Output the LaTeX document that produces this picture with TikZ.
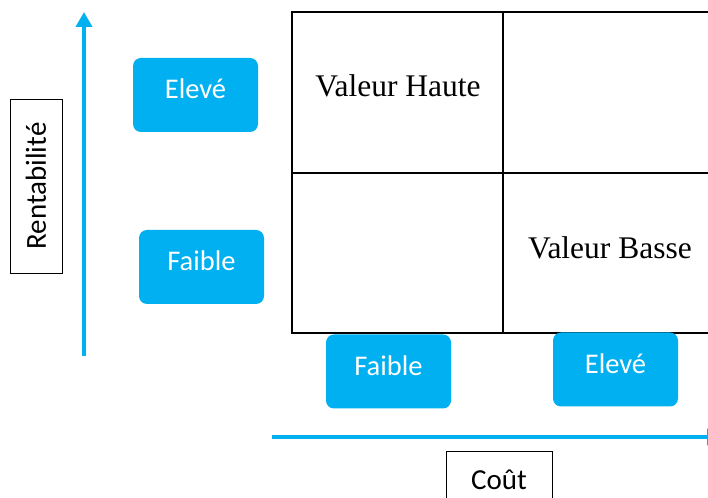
\documentclass[tikz,border=0pt]{standalone}
\usepackage{fontspec}
\setmainfont{Liberation Serif}
\newfontfamily\boxfont{Carlito}
\usepackage{tikz}
\usetikzlibrary{arrows.meta}
\definecolor{boxblue}{HTML}{00B0F0}

\begin{document}
\begin{tikzpicture}[
            x=1pt, y=1pt,
            axis/.style={draw=boxblue, line width=4pt, -{Triangle[width=16pt,length=15pt]}}, % blue axes
            level/.style={fill=boxblue, rounded corners=8pt, minimum width=125pt, minimum height=74pt,
                          text height=20pt, text depth=12pt,
                          text=white, font=\boxfont\fontsize{28.5}{34}\selectfont}, % Elevé / Faible boxes
            axislabel/.style={draw, line width=0.9pt, font=\boxfont\fontsize{29}{35}\selectfont}, % framed axis names
            quadrant/.style={font=\fontsize{31.5}{38}\selectfont} % text inside the grid
            ]

        \useasboundingbox (0,0) rectangle (708,497);

        % the 2x2 grid, right side runs off the page
        \draw[line width=1.6pt] (292,164) rectangle (715,485);
        \draw[line width=1.6pt] (503,164) -- (503,485);
        \draw[line width=1.6pt] (292,324) -- (715,324);
        \node[quadrant] (haute) at (398,411) {Valeur Haute};
        \node[quadrant] (basse) at (610,249) {Valeur Basse};

        % vertical axis
        \coordinate (ybot) at (84,141);
        \coordinate (ytop) at (84,485);
        \draw[axis] (ybot) -- (ytop);
        \node[axislabel, rotate=90, minimum width=174pt, minimum height=52pt] (rent) at (36,311) {Rentabilité};
        \node[level] (releve) at (195.5,402) {Elevé};
        \node[level] (rfaible) at (201.5,230) {Faible};

        % horizontal axis
        \coordinate (xleft) at (272,60);
        \coordinate (xright) at (722,60);
        \draw[axis] (xleft) -- (xright);
        \node[axislabel, minimum width=106pt, minimum height=58pt] (cout) at (499,17) {Coût};
        \node[level] (cfaible) at (388.5,125.5) {Faible};
        \node[level] (celeve) at (615.5,127.5) {Elevé};

\end{tikzpicture}
\end{document}
